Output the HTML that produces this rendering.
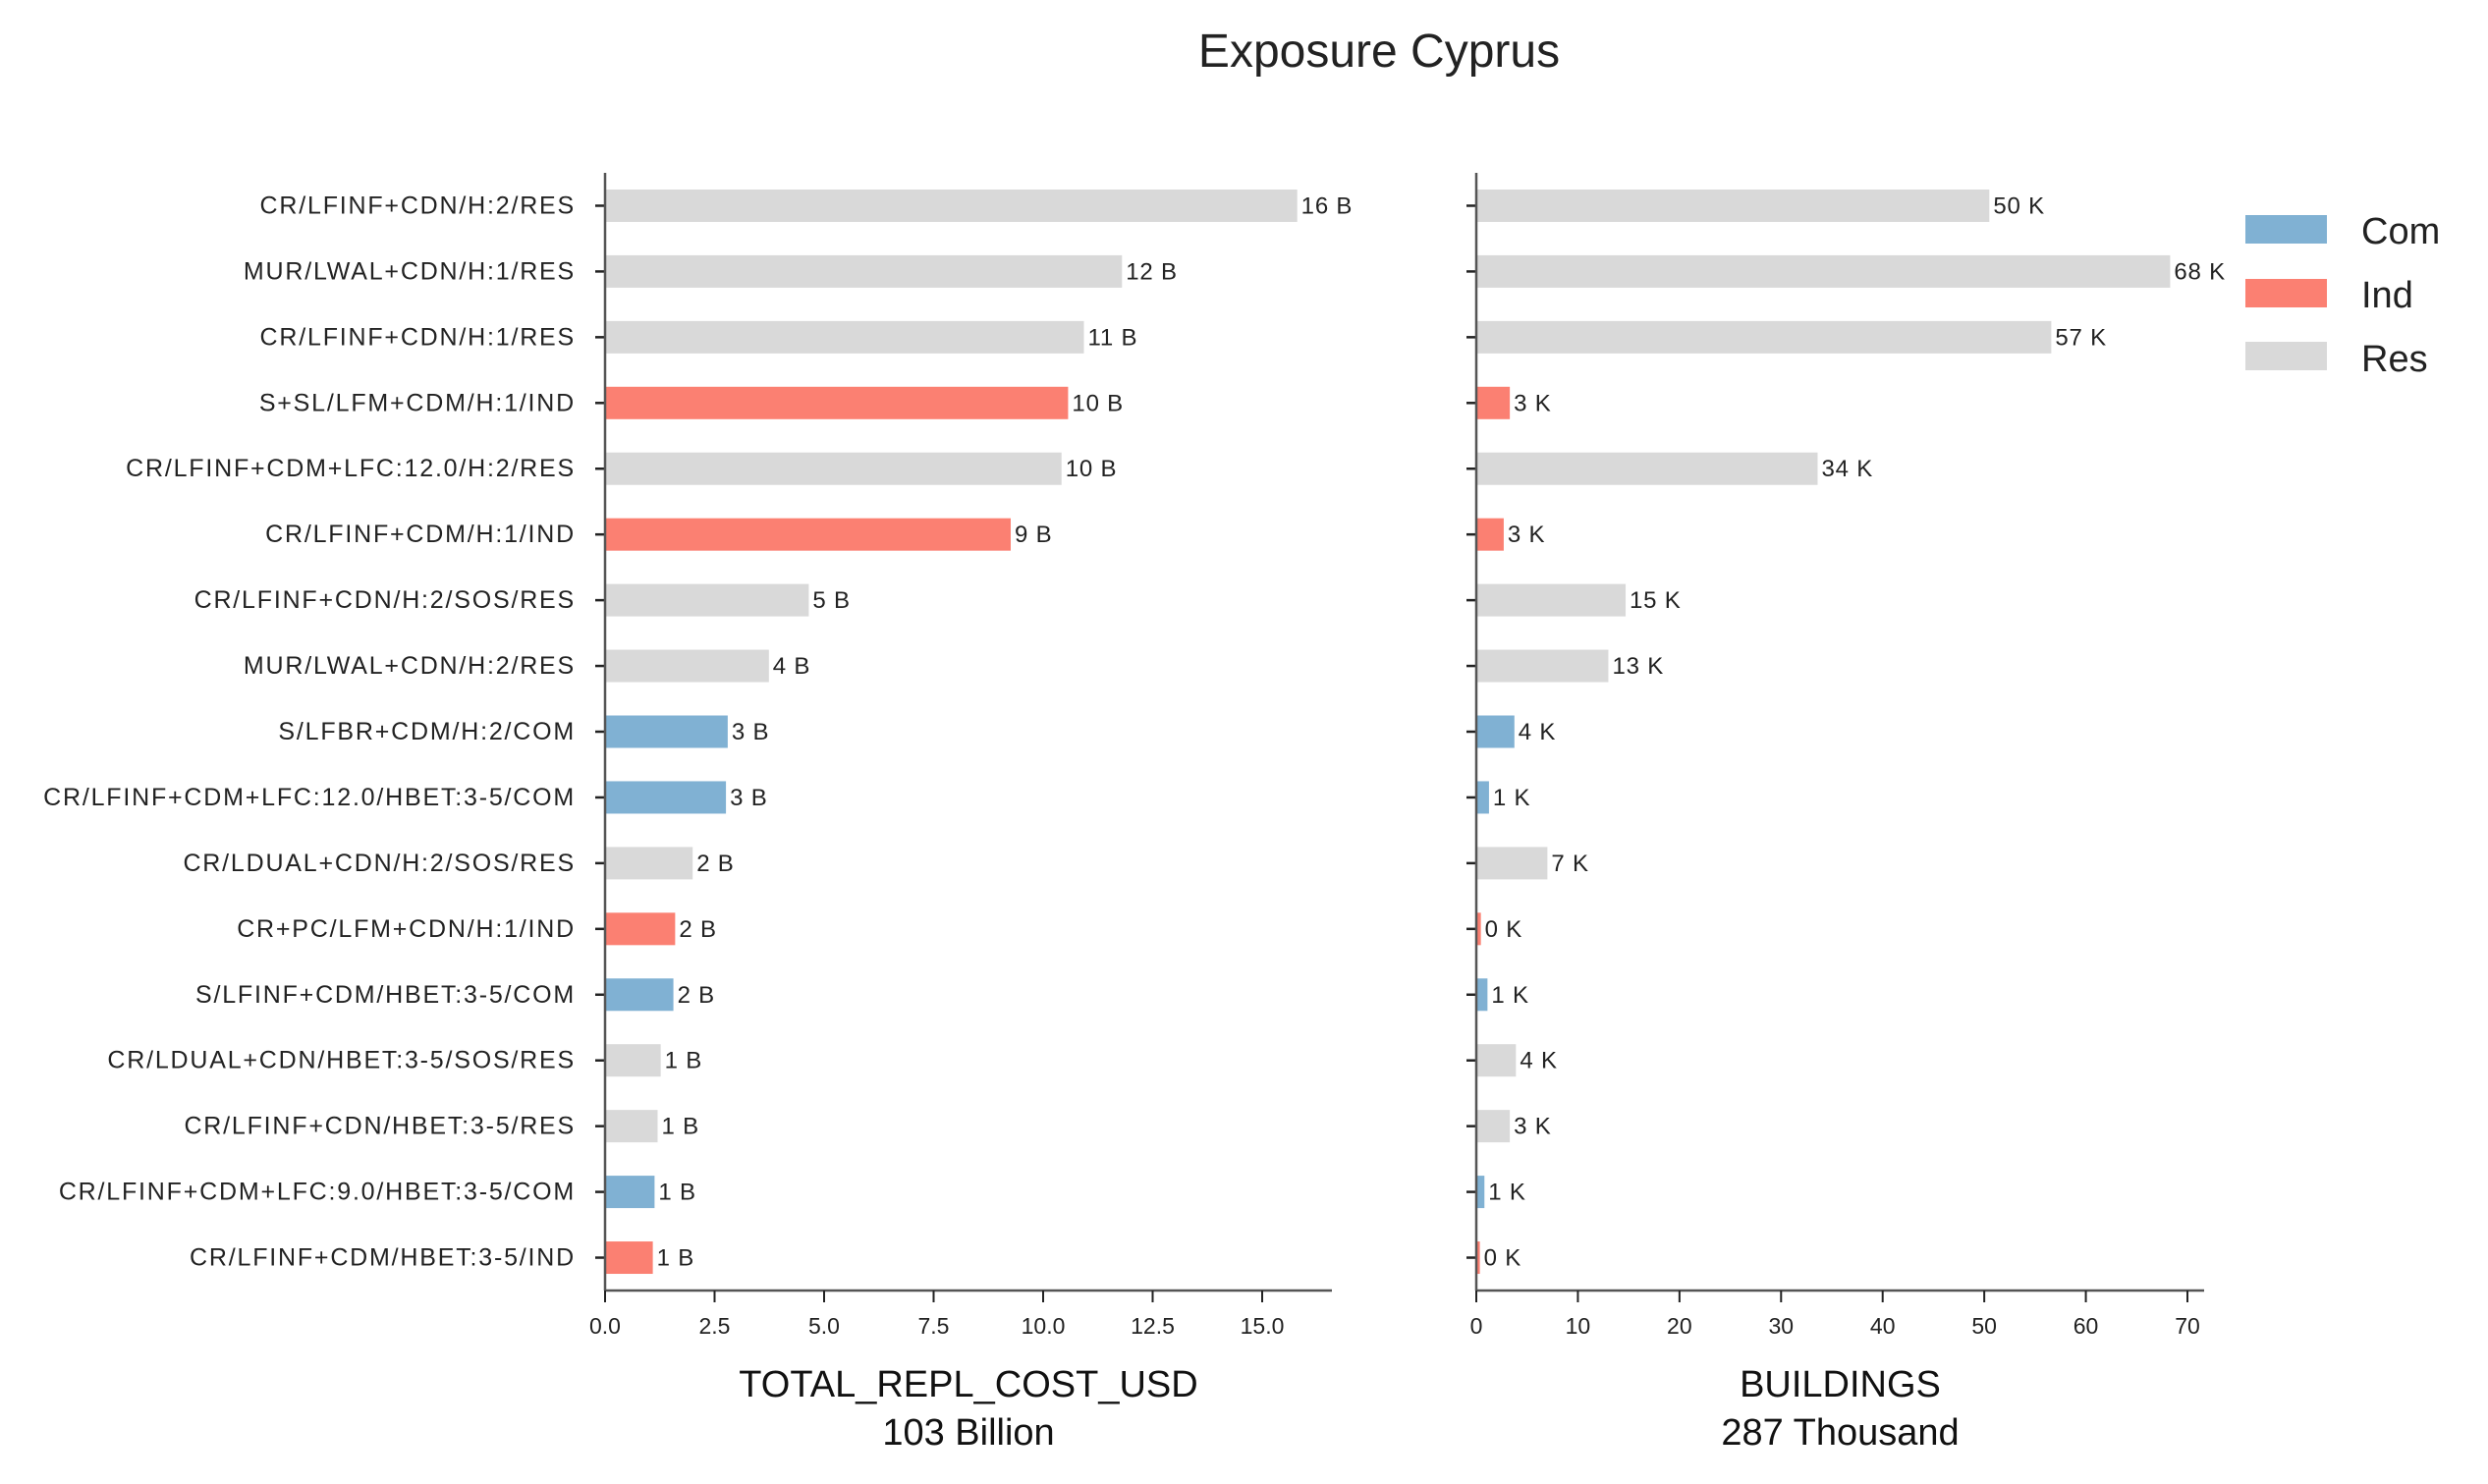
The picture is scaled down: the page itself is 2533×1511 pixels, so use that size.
<!DOCTYPE html>
<html><head><meta charset="utf-8"><style>
html,body{margin:0;padding:0;background:#fff;}
svg{display:block;font-family:"Liberation Sans",sans-serif;}
</style></head><body>
<svg id="chart" width="2533" height="1511" viewBox="0 0 2533 1511" xmlns="http://www.w3.org/2000/svg">
<rect width="2533" height="1511" fill="#fff"/>
<text x="1404" y="68" font-size="48" text-anchor="middle" fill="#222">Exposure Cyprus</text>
<g id="left"></g><g id="right"></g>
<g>
<rect x="2286" y="219" width="83" height="29" fill="#80b1d3"/>
<text x="2404" y="248" font-size="38" fill="#222">Com</text>
<rect x="2286" y="284" width="83" height="29" fill="#fb8072"/>
<text x="2404" y="313" font-size="38" fill="#222">Ind</text>
<rect x="2286" y="348" width="83" height="29" fill="#d9d9d9"/>
<text x="2404" y="378" font-size="38" fill="#222">Res</text>
</g>
</svg>
<script>
const categories = ["CR/LFINF+CDN/H:2/RES","MUR/LWAL+CDN/H:1/RES","CR/LFINF+CDN/H:1/RES","S+SL/LFM+CDM/H:1/IND","CR/LFINF+CDM+LFC:12.0/H:2/RES","CR/LFINF+CDM/H:1/IND","CR/LFINF+CDN/H:2/SOS/RES","MUR/LWAL+CDN/H:2/RES","S/LFBR+CDM/H:2/COM","CR/LFINF+CDM+LFC:12.0/HBET:3-5/COM","CR/LDUAL+CDN/H:2/SOS/RES","CR+PC/LFM+CDN/H:1/IND","S/LFINF+CDM/HBET:3-5/COM","CR/LDUAL+CDN/HBET:3-5/SOS/RES","CR/LFINF+CDN/HBET:3-5/RES","CR/LFINF+CDM+LFC:9.0/HBET:3-5/COM","CR/LFINF+CDM/HBET:3-5/IND"];
const occupancy = ["Res","Res","Res","Ind","Res","Ind","Res","Res","Com","Com","Res","Ind","Com","Res","Res","Com","Ind"];
const costValues = [15.8,11.8,10.93,10.57,10.42,9.26,4.65,3.74,2.8,2.76,2.0,1.6,1.56,1.27,1.2,1.13,1.09];
const costLabels = ["16 B","12 B","11 B","10 B","10 B","9 B","5 B","4 B","3 B","3 B","2 B","2 B","2 B","1 B","1 B","1 B","1 B"];
const buildingValues = [50.5,68.3,56.6,3.3,33.6,2.7,14.7,13.0,3.75,1.25,7.0,0.45,1.1,3.9,3.3,0.8,0.35];
const buildingLabels = ["50 K","68 K","57 K","3 K","34 K","3 K","15 K","13 K","4 K","1 K","7 K","0 K","1 K","4 K","3 K","1 K","0 K"];
const costTicks = [0,2.5,5,7.5,10,12.5,15];
const costTickLabels = ["0.0","2.5","5.0","7.5","10.0","12.5","15.0"];
const buildingTicks = [0,10,20,30,40,50,60,70];
const buildingTickLabels = ["0","10","20","30","40","50","60","70"];
const colors = {Com:"#80b1d3",Ind:"#fb8072",Res:"#d9d9d9"};
const NS="http://www.w3.org/2000/svg";
function mk(parent,tag,attrs,txt){const e=document.createElementNS(NS,tag);for(const k in attrs)e.setAttribute(k,attrs[k]);if(txt!==undefined)e.textContent=txt;parent.appendChild(e);return e;}
const yTop=176, yBot=1314, rowH=(yBot-yTop)/categories.length;
function yPos(i){return yTop+(i+0.5)*rowH;}
function panel(g,x0,x1,xPerUnit,vals,labels,ticks,tickLabels,showCats,title,sub){
  const xs=v=>x0+v*xPerUnit;
  vals.forEach((v,i)=>{
    const r=mk(g,'rect',{x:x0,y:yPos(i)-16.5,width:Math.max(0,xs(v)-x0),height:33,fill:colors[occupancy[i]]});
    
    
    const t=mk(g,'text',{x:xs(v)+4,y:yPos(i)+8,'font-size':24,'letter-spacing':0.8,fill:'#222'},labels[i]);
    
    
    const tk=mk(g,'line',{x1:x0-10,x2:x0,y1:yPos(i),y2:yPos(i),stroke:'#222','stroke-width':2.5});
    
    
    if(showCats){
      const c=mk(g,'text',{x:586,y:yPos(i)+8,'font-size':25,'letter-spacing':1.8,'text-anchor':'end',fill:'#222'},categories[i]);
      
      
    }
  });
  const ya=mk(g,'line',{x1:x0,x2:x0,y1:yTop,y2:yBot,stroke:'#555','stroke-width':2.5});
  
  
  const xa=mk(g,'line',{x1:x0-1,x2:x1,y1:yBot,y2:yBot,stroke:'#555','stroke-width':2.5});
  
  
  ticks.forEach((t,i)=>{
    const l=mk(g,'line',{x1:xs(t),x2:xs(t),y1:yBot,y2:yBot+12,stroke:'#222','stroke-width':2});
    
    
    const tl=mk(g,'text',{x:xs(t),y:1358,'font-size':23,'text-anchor':'middle',fill:'#222'},tickLabels[i]);
    
    
  });
  const cx=(x0+x1)/2;
  const a=mk(g,'text',{x:cx,y:1422,'font-size':38,'text-anchor':'middle',fill:'#111'},title);
  
  
  const b=mk(g,'text',{x:cx,y:1471,'font-size':38,'text-anchor':'middle',fill:'#111'},sub);
  
  
}
panel(document.getElementById('left'),616,1356,(1285-616)/15,costValues,costLabels,costTicks,costTickLabels,true,'TOTAL_REPL_COST_USD','103 Billion');
panel(document.getElementById('right'),1503,2244,(2227-1503)/70,buildingValues,buildingLabels,buildingTicks,buildingTickLabels,false,'BUILDINGS','287 Thousand');
</script>
</body></html>
